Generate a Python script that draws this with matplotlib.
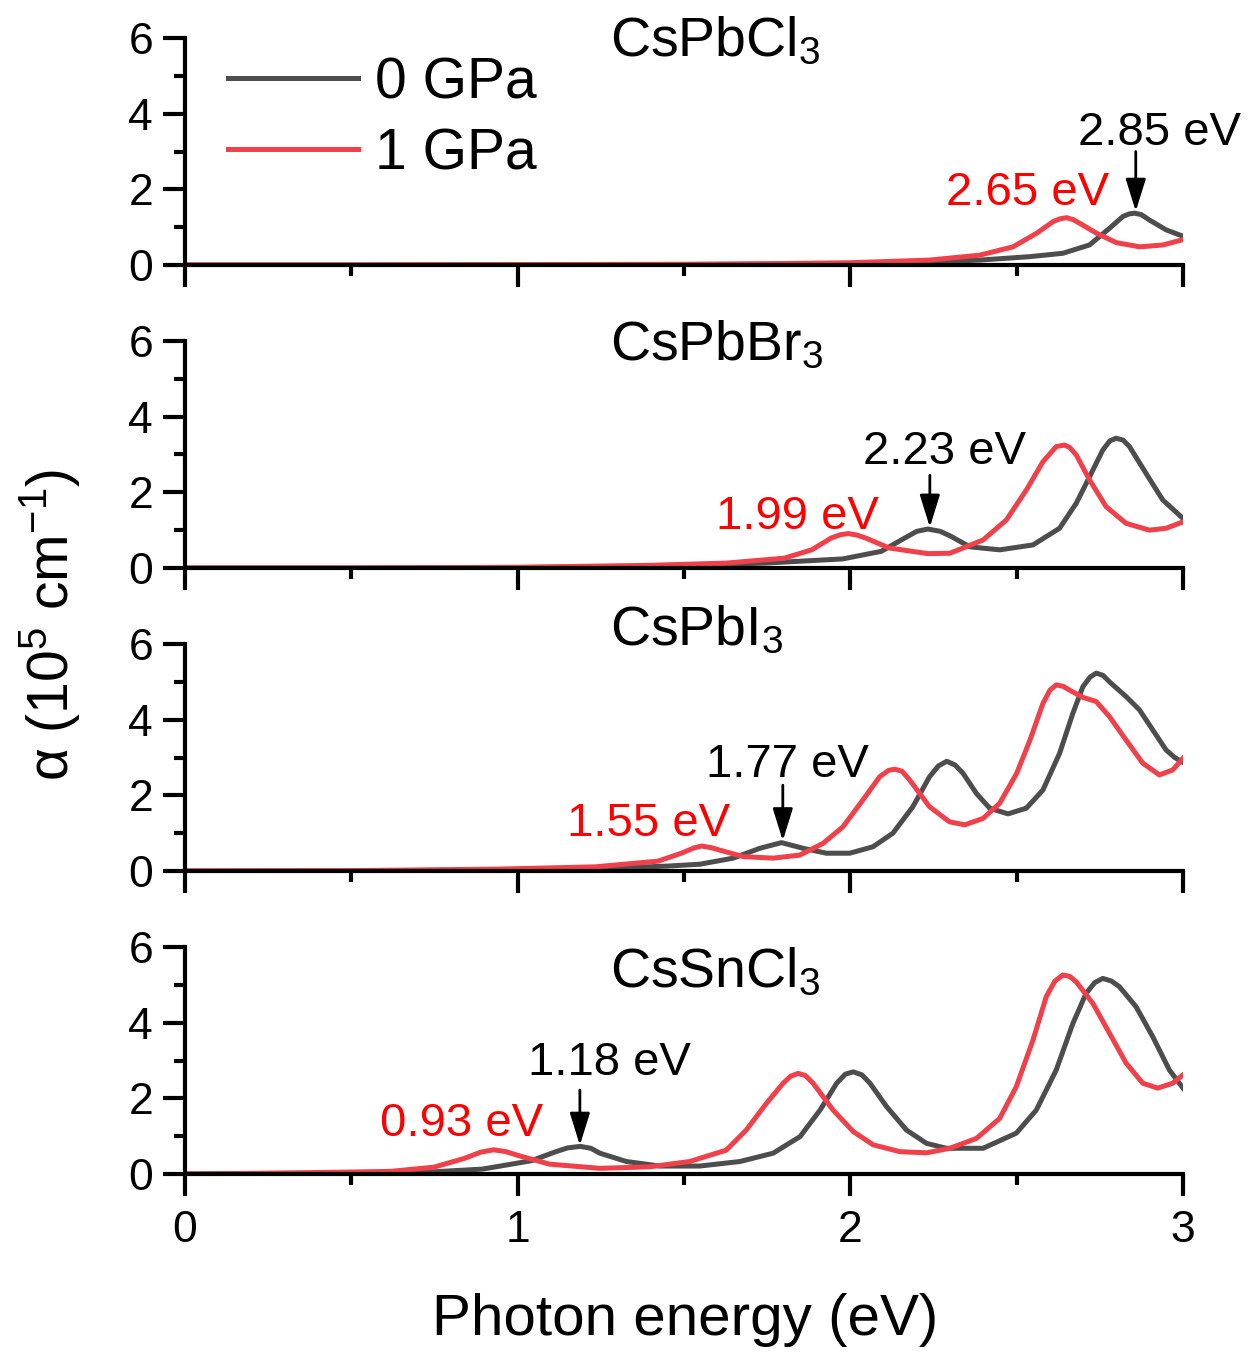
"""
Coeficiente de absorción de perovskitas a 0 y 1 GPa
"""
import numpy as np
import matplotlib
matplotlib.use("Agg")
from matplotlib import pyplot as plt

plt.rcParams['font.family'] = ['Liberation Sans', 'DejaVu Sans']
plt.rcParams['mathtext.fontset'] = 'custom'
plt.rcParams['mathtext.rm'] = 'Liberation Sans'
plt.rcParams['mathtext.it'] = 'Liberation Sans'

#---DATOS (energía en eV, alfa en 10^5 cm^-1)
materiales = ["CsPbCl$_3$", "CsPbBr$_3$", "CsPbI$_3$", "CsSnCl$_3$"]

# CsPbCl3
e_cl_0 = [0, 0.5, 1.0, 1.5, 2.0, 2.2, 2.389, 2.539, 2.639, 2.719, 2.779, 2.819, 2.838, 2.855, 2.875,
          2.899, 2.949, 3.0]
a_cl_0 = [0, 0.0, 0.005, 0.01, 0.03, 0.07, 0.13, 0.22, 0.31, 0.53, 0.97, 1.28, 1.35, 1.37, 1.33,
          1.19, 0.93, 0.76]
e_cl_1 = [0, 0.5, 1.0, 1.5, 1.8, 2.0, 2.239, 2.389, 2.489, 2.56, 2.61, 2.63, 2.65, 2.67, 2.69,
          2.74, 2.8, 2.87, 2.94, 3.0]
a_cl_1 = [0, 0.0, 0.01, 0.02, 0.04, 0.06, 0.13, 0.26, 0.48, 0.84, 1.15, 1.22, 1.25, 1.20, 1.10,
          0.84, 0.59, 0.48, 0.53, 0.67]

# CsPbBr3
e_br_0 = [0, 0.5, 1.0, 1.395, 1.744, 1.977, 2.093, 2.163, 2.2, 2.233, 2.27, 2.302, 2.359, 2.449,
          2.549, 2.629, 2.679, 2.719, 2.759, 2.78, 2.799, 2.82, 2.839, 2.889, 2.939, 3.0]
a_br_0 = [0, 0.0, 0.01, 0.04, 0.13, 0.24, 0.44, 0.79, 0.97, 1.03, 0.97, 0.84, 0.56, 0.48,
          0.61, 1.05, 1.71, 2.41, 3.12, 3.36, 3.43, 3.38, 3.21, 2.50, 1.80, 1.31]
e_br_1 = [0, 0.5, 1.0, 1.395, 1.628, 1.802, 1.884, 1.942, 1.97, 1.994, 2.02, 2.047, 2.116, 2.233,
          2.299, 2.399, 2.469, 2.529, 2.579, 2.619, 2.644, 2.66, 2.679, 2.719, 2.769, 2.829, 2.899,
          2.949, 3.0]
a_br_1 = [0, 0.0, 0.02, 0.07, 0.13, 0.26, 0.48, 0.79, 0.88, 0.91, 0.87, 0.79, 0.53, 0.38,
          0.39, 0.74, 1.27, 2.06, 2.81, 3.21, 3.25, 3.18, 2.99, 2.33, 1.62, 1.18, 1.00,
          1.05, 1.22]

# CsPbI3
e_i_0 = [0, 0.5, 0.94, 1.233, 1.451, 1.548, 1.648, 1.728, 1.793, 1.858, 1.928, 1.998, 2.068, 2.128,
         2.188, 2.238, 2.265, 2.29, 2.315, 2.339, 2.379, 2.419, 2.474, 2.529, 2.579, 2.629, 2.669,
         2.699, 2.72, 2.739, 2.76, 2.779, 2.829, 2.869, 2.909, 2.949, 2.975, 3.0]
a_i_0 = [0, 0.0, 0.03, 0.06, 0.13, 0.18, 0.34, 0.60, 0.75, 0.60, 0.47, 0.47, 0.64, 1.00,
         1.70, 2.49, 2.78, 2.90, 2.80, 2.58, 2.05, 1.66, 1.51, 1.66, 2.14, 3.11, 4.17,
         4.87, 5.12, 5.23, 5.17, 5.00, 4.61, 4.26, 3.73, 3.20, 3.00, 2.87]
e_i_1 = [0, 0.5, 0.94, 1.233, 1.422, 1.495, 1.53, 1.553, 1.58, 1.608, 1.678, 1.768, 1.848, 1.918,
         1.978, 2.038, 2.088, 2.115, 2.133, 2.155, 2.178, 2.238, 2.298, 2.344, 2.399, 2.449, 2.5,
         2.54, 2.579, 2.6, 2.619, 2.64, 2.659, 2.699, 2.739, 2.779, 2.829, 2.879, 2.929, 2.969, 3.0]
a_i_1 = [0, 0.01, 0.05, 0.11, 0.26, 0.48, 0.61, 0.66, 0.62, 0.55, 0.38, 0.34, 0.42, 0.73,
         1.17, 1.88, 2.49, 2.66, 2.69, 2.64, 2.41, 1.70, 1.30, 1.22, 1.39, 1.79, 2.58,
         3.46, 4.43, 4.78, 4.92, 4.88, 4.78, 4.59, 4.48, 4.08, 3.46, 2.85, 2.54, 2.67, 2.98]

# CsSnCl3
e_sn_0 = [0, 0.344, 0.711, 0.894, 1.041, 1.115, 1.15, 1.188, 1.22, 1.247, 1.327, 1.427, 1.547,
          1.668, 1.768, 1.849, 1.909, 1.959, 1.985, 2.009, 2.035, 2.059, 2.109, 2.169, 2.229,
          2.289, 2.399, 2.499, 2.559, 2.619, 2.669, 2.709, 2.735, 2.759, 2.785, 2.809, 2.859,
          2.909, 2.959, 3.0]
a_sn_0 = [0, 0.02, 0.04, 0.13, 0.35, 0.59, 0.69, 0.73, 0.68, 0.55, 0.33, 0.21, 0.21,
          0.33, 0.55, 0.99, 1.69, 2.40, 2.64, 2.70, 2.62, 2.40, 1.78, 1.16, 0.81,
          0.68, 0.68, 1.08, 1.69, 2.75, 3.98, 4.78, 5.06, 5.17, 5.10, 4.95, 4.42,
          3.63, 2.75, 2.27]
e_sn_1 = [0, 0.344, 0.619, 0.748, 0.839, 0.89, 0.928, 0.965, 1.005, 1.096, 1.247, 1.397, 1.517,
          1.627, 1.687, 1.748, 1.798, 1.82, 1.843, 1.865, 1.888, 1.948, 2.009, 2.069, 2.149,
          2.229, 2.299, 2.379, 2.449, 2.499, 2.549, 2.589, 2.615, 2.639, 2.66, 2.679, 2.729,
          2.779, 2.829, 2.879, 2.924, 2.969, 3.0]
a_sn_1 = [0, 0.03, 0.07, 0.18, 0.41, 0.58, 0.64, 0.59, 0.48, 0.26, 0.15, 0.19, 0.33,
          0.63, 1.16, 1.87, 2.40, 2.58, 2.66, 2.60, 2.40, 1.69, 1.12, 0.77, 0.59,
          0.56, 0.68, 0.94, 1.47, 2.31, 3.54, 4.69, 5.10, 5.26, 5.22, 5.08, 4.51,
          3.72, 2.93, 2.40, 2.27, 2.40, 2.62]

energias_0 = [e_cl_0, e_br_0, e_i_0, e_sn_0]
alfas_0 = [a_cl_0, a_br_0, a_i_0, a_sn_0]
energias_1 = [e_cl_1, e_br_1, e_i_1, e_sn_1]
alfas_1 = [a_cl_1, a_br_1, a_i_1, a_sn_1]

# bordes de banda marcados (0 GPa con flecha, 1 GPa en rojo)
gap_0 = [2.85, 2.23, 1.77, 1.18]
gap_1 = [2.65, 1.99, 1.55, 0.93]

#---POSICIONES DE TEXTOS EN COORDENADAS DE DATOS
titulo_y = [5.52, 5.50, 5.97, 4.94]
flecha_x = [2.858, 2.239, 1.797, 1.187]
flecha_ini = [3.0, 2.45, 2.27, 2.22]
flecha_fin = [1.42, 1.08, 0.80, 0.76]
texto0_xy = [(2.93, 3.49), (2.284, 3.07), (1.812, 2.80), (1.277, 2.93)]
texto1_xy = [(2.534, 1.90), (1.84, 1.35), (1.392, 1.24), (0.83, 1.32)]

gris = "#4d4d4d"
rojo = "#f0404a"

fig = plt.figure(figsize=(12.56, 13.52), dpi=100)
izq, ancho, alto = 185/1256, 998/1256, 227/1352
bases = [1 - 265/1352, 1 - 568/1352, 1 - 871/1352, 1 - 1174/1352]

ejes = []
for i in range(4):
    ax = fig.add_axes([izq, bases[i], ancho, alto])
    ax.plot(energias_0[i], alfas_0[i], color=gris, lw=3.6, solid_joinstyle='round', label="0 GPa")
    ax.plot(energias_1[i], alfas_1[i], color=rojo, lw=3.6, solid_joinstyle='round', label="1 GPa")
    ax.set_xlim(0, 3)
    ax.set_ylim(0, 6)
    ax.spines['top'].set_visible(False)
    ax.spines['right'].set_visible(False)
    ax.spines['left'].set_linewidth(3)
    ax.spines['bottom'].set_linewidth(3)
    ax.set_xticks([0, 1, 2, 3])
    ax.set_xticks([0.5, 1.5, 2.5], minor=True)
    ax.set_yticks([0, 2, 4, 6])
    ax.set_yticks([1, 3, 5], minor=True)
    ax.tick_params(which='major', direction='out', length=16, width=3, labelsize=32, pad=7)
    ax.tick_params(which='minor', direction='out', length=8, width=3)
    if i < 3:
        ax.tick_params(axis='x', labelbottom=False)
    else:
        ax.tick_params(axis='x', pad=10)
    # nombre del material
    ax.text(1.277, titulo_y[i], materiales[i], fontsize=40, ha='left', va='baseline')
    # flecha y valor a 0 GPa
    ax.annotate('', xy=(flecha_x[i], flecha_fin[i]), xytext=(flecha_x[i], flecha_ini[i]),
                arrowprops=dict(arrowstyle='-|>,head_width=0.28,head_length=0.9', color='k',
                                lw=2, mutation_scale=22, shrinkA=0, shrinkB=0))
    ax.text(texto0_xy[i][0], texto0_xy[i][1], "%.2f eV" % gap_0[i], fontsize=34,
            ha='center', va='center', color='k')
    ax.text(texto1_xy[i][0], texto1_xy[i][1], "%.2f eV" % gap_1[i], fontsize=34,
            ha='center', va='center', color='#ff0000')
    ejes.append(ax)

ejes[0].legend(loc='upper left', bbox_to_anchor=(0.043, 0.92), frameon=False, fontsize=41,
               handlelength=2.28, handletextpad=0.3, labelspacing=0.3, borderpad=0, borderaxespad=0)

fig.text(685/1256, 1 - 1320/1352, "Photon energy (eV)", fontsize=42, ha='center', va='center')
fig.text(50/1256, 1 - 625/1352, "α (10$^5$ cm$^{-1}$)", fontsize=41, ha='center', va='center',
         rotation=90)

plt.savefig("out.png", dpi=100)
